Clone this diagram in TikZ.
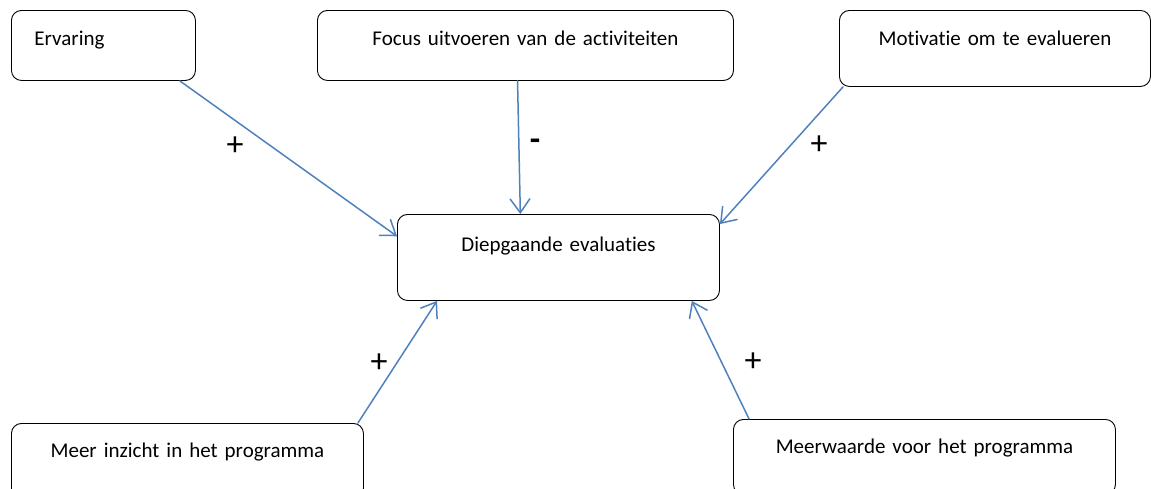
\documentclass[tikz,border=0pt]{standalone}
\usepackage{fontspec}
\setmainfont{Carlito}[Ligatures=NoCommon]
\usetikzlibrary{arrows.meta,calc}
\definecolor{pijlblauw}{HTML}{4F81BD}

\begin{document}
\begin{tikzpicture}[x=1pt, y=-1pt, line join=round, line cap=round,
    box/.style={draw=black, line width=0.9pt, rounded corners=10pt, inner sep=0pt,
      font=\fontsize{21}{25}\selectfont, align=center},
    pijl/.style={draw=pijlblauw, line width=1.5pt,
      -{Straight Barb[length=14pt,width=20pt,line width=1.5pt]}},
    teken/.style={font=\fontsize{34}{40}\selectfont, inner sep=0pt}]

    % 描画範囲
    \useasboundingbox (0,0) rectangle (1151,488);
    \clip (0,0) rectangle (1151,488);

    % 上の三つの箱
    \node[box, anchor=north west, text width=184pt, text height=35pt, text depth=35pt,
      align=left] (erv) at (11,10) {\hspace*{23pt}Ervaring};
    \node[box, anchor=north west, text width=416pt, text height=35pt, text depth=35pt]
      (foc) at (317,10) {Focus uitvoeren van de activiteiten};
    \node[box, anchor=north west, text width=311pt, text height=35pt, text depth=41pt]
      (mot) at (839,10) {Motivatie om te evalueren};

    % 中央の箱
    \node[box, anchor=north west, text width=322pt, text height=37pt, text depth=49pt]
      (diep) at (397,214) {Diepgaande evaluaties};

    % 下の二つの箱
    \node[box, anchor=north west, text width=352pt, text height=34pt, text depth=41pt]
      (meer) at (11,423) {Meer inzicht in het programma};
    \node[box, anchor=north west, text width=382pt, text height=34pt, text depth=41pt]
      (wrd) at (733,419) {Meerwaarde voor het programma};

    % 矢印
    \draw[pijl] ($(erv.south west)!0.913!(erv.south east)$)
      -- ($(diep.north west)!0.256!(diep.south west)$);
    \draw[pijl] ($(foc.south west)!0.481!(foc.south east)$)
      -- ($(diep.north west)!0.382!(diep.north east)$);
    \draw[pijl] ($(mot.south west)+(4,0)$)
      -- ($(diep.north east)!0.116!(diep.south east)$);
    \draw[pijl] ($(meer.north east)+(-6,0)$)
      -- ($(diep.south west)!0.124!(diep.south east)$);
    \draw[pijl] ($(wrd.north west)!0.042!(wrd.north east)$)
      -- ($(diep.south west)!0.913!(diep.south east)$);

    % 符号
    \node[teken] (s1) at (235,146) {+};
    \node[teken] (s2) at (535,145) {\bfseries -};
    \node[teken] (s3) at (819,145) {+};
    \node[teken] (s4) at (379,363) {+};
    \node[teken] (s5) at (753,362) {+};

\end{tikzpicture}
\end{document}
